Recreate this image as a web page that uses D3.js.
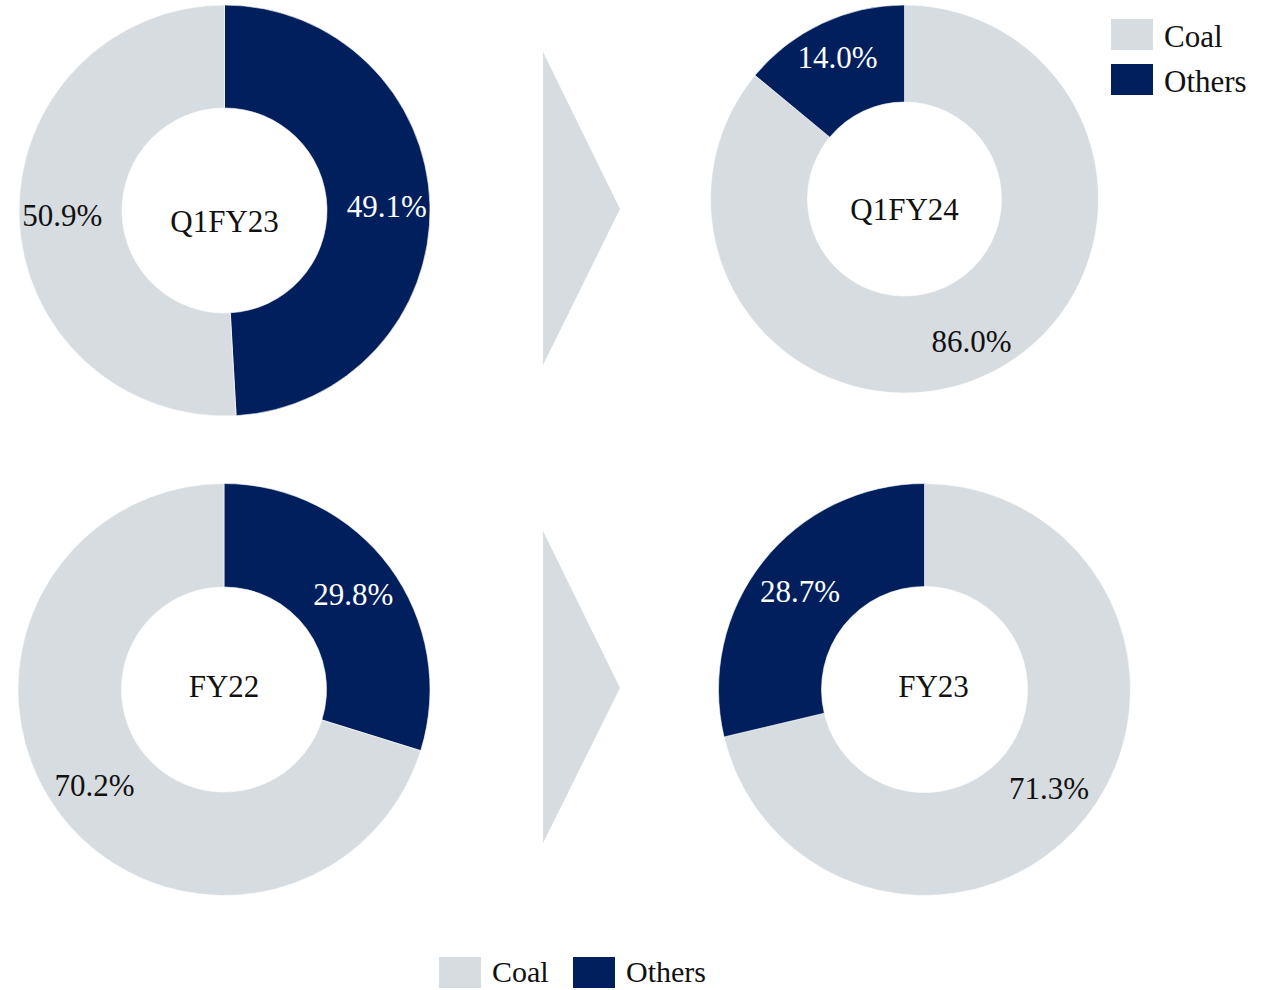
<!DOCTYPE html>
<html>
<head>
<meta charset="utf-8">
<script src="https://cdn.jsdelivr.net/npm/d3@7"></script>
<style>
  html, body { margin: 0; padding: 0; background: #fff; }
  svg { display: block; }
  text { font-family: "Liberation Serif", "DejaVu Serif", serif; }
</style>
</head>
<body>
<svg id="chart" width="1268" height="990"></svg>
<script>
// ---- data ----
const periods = ["Q1FY23", "Q1FY24", "FY22", "FY23"];
const coalShare = [50.9, 86.0, 70.2, 71.3];
const othersShare = [49.1, 14.0, 29.8, 28.7];
// slice drawing order (clockwise from 12 o'clock) per chart
const sliceOrder = [["Others", "Coal"], ["Coal", "Others"], ["Others", "Coal"], ["Coal", "Others"]];
const seriesNames = ["Coal", "Others"];

// ---- layout / style ----
const colors = { Coal: "#d7dce0", Others: "#001f5c" };
const layout = [
  { cx: 224.5, cy: 210.5, r: 205.5, ir: 102.5, lr: 0.79, tdx: 0, tdy: 11 },
  { cx: 904.5, cy: 199,   r: 194,   ir: 97,    lr: 0.81, tdx: 0, tdy: 10 },
  { cx: 224,   cy: 689.5, r: 206,   ir: 102.5, lr: 0.78, tdx: 0, tdy: -3 },
  { cx: 924.5, cy: 689.5, r: 206,   ir: 103,   lr: 0.77, tdx: 9, tdy: -3 }
];
const fontSize = 31;

const svg = d3.select("#chart");

const pie = d3.pie().sort(null).value(d => d.value);

periods.forEach((p, i) => {
  const L = layout[i];
  const vals = { Coal: coalShare[i], Others: othersShare[i] };
  const data = sliceOrder[i].map(name => ({ name, value: vals[name] }));
  const arcs = pie(data);
  const arc = d3.arc().innerRadius(L.ir).outerRadius(L.r);
  const labelArc = d3.arc().innerRadius(L.r * L.lr).outerRadius(L.r * L.lr);

  const g = svg.append("g").attr("transform", `translate(${L.cx},${L.cy})`);
  g.selectAll("path").data(arcs).join("path")
    .attr("d", arc)
    .attr("fill", d => colors[d.data.name])
    .attr("stroke", "#fff")
    .attr("stroke-width", 0.6);

  g.selectAll("text.lbl").data(arcs).join("text")
    .attr("class", "lbl")
    .attr("transform", d => `translate(${labelArc.centroid(d)})`)
    .attr("text-anchor", "middle")
    .attr("dy", "0.35em")
    .attr("font-size", fontSize)
    .attr("fill", d => d.data.name === "Others" ? "#ffffff" : "#111111")
    .text(d => d3.format(".1f")(d.data.value) + "%");

  g.append("text")
    .attr("x", L.tdx).attr("y", L.tdy)
    .attr("text-anchor", "middle")
    .attr("dy", "0.35em")
    .attr("font-size", fontSize)
    .attr("fill", "#111111")
    .text(p);
});

// arrows (chevrons)
const arrows = [
  [[543, 52], [620, 209], [543, 365]],
  [[543, 531], [620, 688], [543, 843]]
];
svg.selectAll("polygon.arrow").data(arrows).join("polygon")
  .attr("class", "arrow")
  .attr("points", d => d.map(pt => pt.join(",")).join(" "))
  .attr("fill", colors.Coal);

// legends
function legend(items, size, textDy) {
  items.forEach(it => {
    svg.append("rect")
      .attr("x", it.x).attr("y", it.y).attr("width", 42).attr("height", 31)
      .attr("fill", colors[it.name]);
    svg.append("text")
      .attr("x", it.x + 53).attr("y", it.y + textDy)
      .attr("dy", "0.35em")
      .attr("font-size", size)
      .attr("fill", "#111111")
      .text(it.name);
  });
}
legend([
  { name: seriesNames[0], x: 1111, y: 19 },
  { name: seriesNames[1], x: 1111, y: 64 }
], fontSize, 17);
legend([
  { name: seriesNames[0], x: 439, y: 957 },
  { name: seriesNames[1], x: 573, y: 957 }
], 30, 14);
</script>
</body>
</html>
